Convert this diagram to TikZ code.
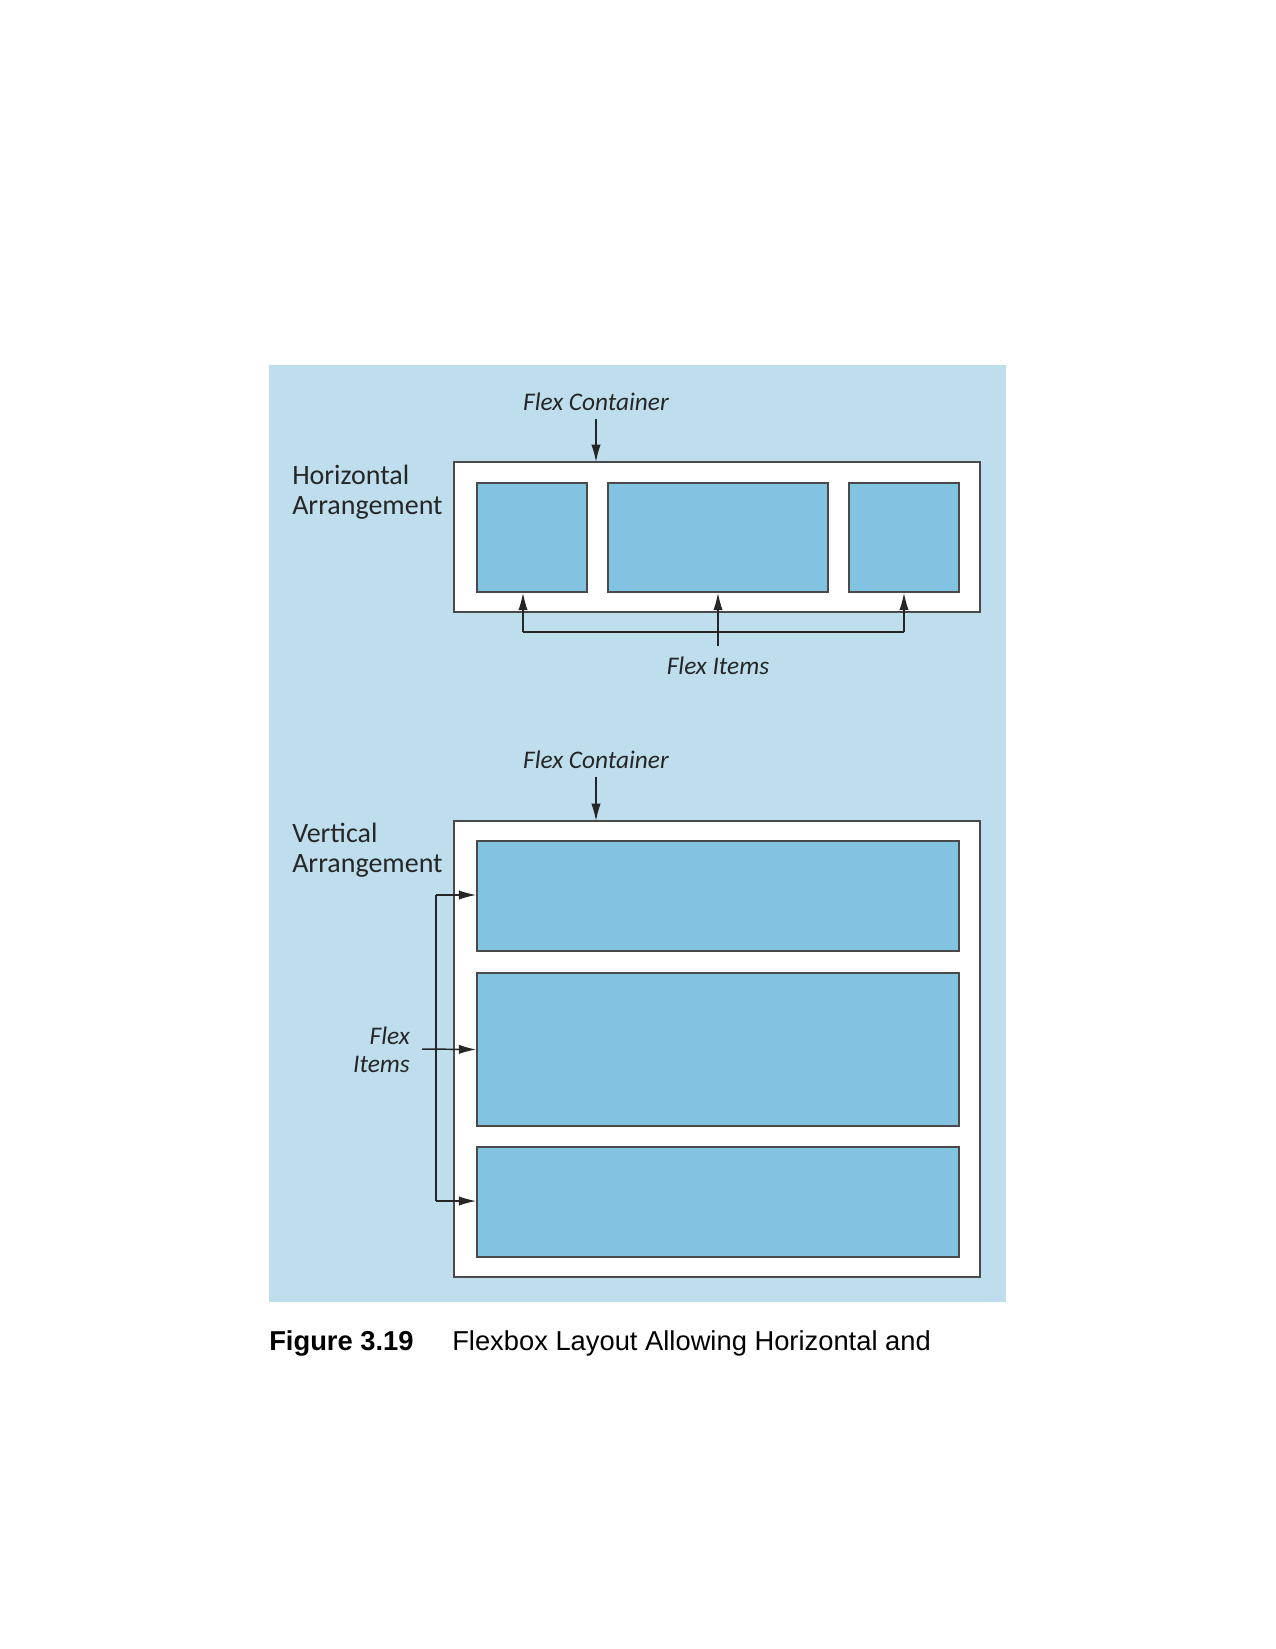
\documentclass[tikz,border=0pt]{standalone}
\usepackage{fontspec}
\setmainfont{Carlito}
\newfontfamily\capfont{Liberation Sans}
\usetikzlibrary{arrows.meta,fit}
\definecolor{bgblue}{HTML}{BEDEEE}
\definecolor{itemblue}{HTML}{83C3E2}
\definecolor{edgegray}{HTML}{4A4A4A}
\definecolor{inkgray}{HTML}{262626}
\begin{document}
\begin{tikzpicture}[x=0.75pt,y=-0.75pt,
  contbox/.style={draw=edgegray,line width=1.2pt,fill=white,rectangle,inner sep=0pt},
  itembox/.style={draw=edgegray,line width=1.2pt,fill=itemblue,rectangle,inner sep=0pt},
  lbl/.style={font=\fontsize{21}{22.5}\selectfont,text=inkgray,inner sep=0pt},
  ilbl/.style={font=\fontsize{19}{21}\selectfont\itshape,text=inkgray,inner sep=0pt},
  conn/.style={draw=inkgray,line width=1.1pt},
  arr/.style={conn,-{Latex[length=13pt,width=7pt]}}]
\fill[white] (0,0) rectangle (1275,1649);
\useasboundingbox (0,0) rectangle (1275,1649);
\fill[bgblue] (269,365) rectangle (1006,1302);

% Horizontal arrangement
\node[contbox,fit={(454,462) (980,612)}] (hc) {};
\node[itembox,fit={(477,483) (587,592)}] (h1) {};
\node[itembox,fit={(608,483) (828,592)}] (h2) {};
\node[itembox,fit={(849,483) (959,592)}] (h3) {};
\node[lbl,anchor=base west,align=left] (hlab) at (292,514) {Horizontal\\Arrangement};
\node[ilbl] (fc1) at (596,402) {Flex Container};
\draw[arr] (596,419) -- (596,462);
\node[ilbl] (fi1) at (718,666) {Flex Items};
\coordinate (hbL) at (523,632);
\coordinate (hbR) at (904,632);
\draw[conn] (hbL) -- (hbR);
\draw[arr] (hbL) -- (hbL |- h1.south);
\draw[arr] (hbR) -- (hbR |- h3.south);
\draw[arr] (718,646) -- (h2.south);

% Vertical arrangement
\node[contbox,fit={(454,821) (980,1277)}] (vc) {};
\node[itembox,fit={(477,841) (959,951)}] (v1) {};
\node[itembox,fit={(477,973) (959,1126)}] (v2) {};
\node[itembox,fit={(477,1147) (959,1257)}] (v3) {};
\node[lbl,anchor=base west,align=left] (vlab) at (292,872) {Vertical\\Arrangement};
\node[ilbl] (fc2) at (596,760) {Flex Container};
\draw[arr] (596,777) -- (596,821);
\node[ilbl,anchor=base east,align=right] (fi2) at (410,1072) {Flex\\Items};
\coordinate (vbT) at (436,895);
\coordinate (vbB) at (436,1201);
\draw[conn] (vbT) -- (vbB);
\draw[arr] (vbT) -- (vbT -| v1.west);
\draw[arr] (vbB) -- (vbB -| v3.west);
\draw[arr] (422,1049) -- (v2.west);

% Caption
\node[anchor=base west,inner sep=0pt,font=\capfont\fontsize{20.5}{24}\selectfont\bfseries] (cnum) at (269,1350) {Figure 3.19};
\node[anchor=base west,inner sep=0pt,font=\capfont\fontsize{20.5}{24}\selectfont] (ctext) at (452,1350) {Flexbox Layout Allowing Horizontal and};
\end{tikzpicture}
\end{document}
